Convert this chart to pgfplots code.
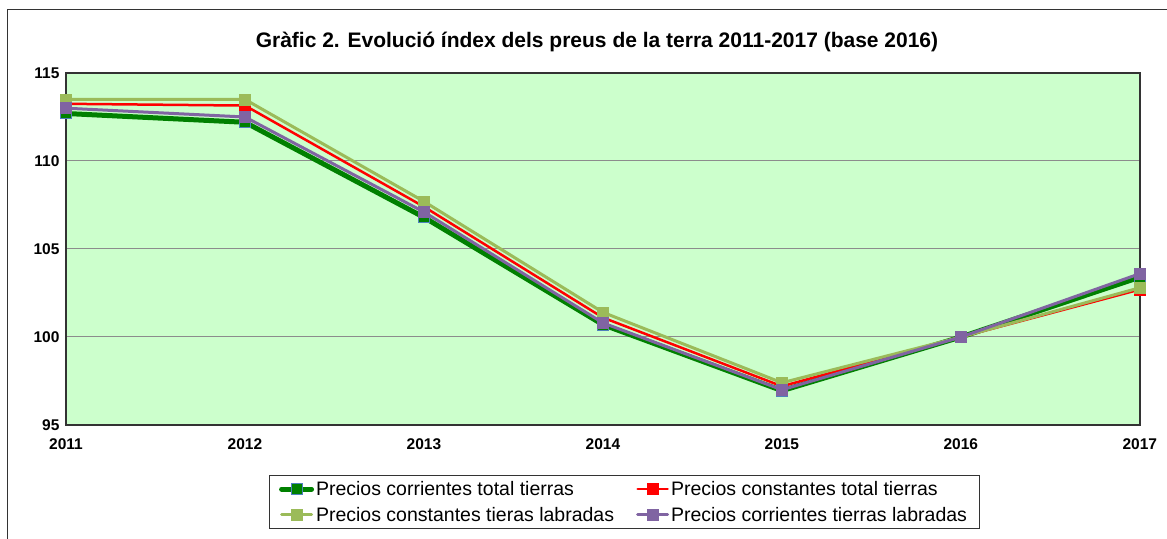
\documentclass[border=0pt]{standalone}
\usepackage{pgfplots}
\pgfplotsset{compat=1.18}
\usepackage{fontspec}
\setmainfont{Liberation Sans}
\definecolor{bgg}{HTML}{CCFFCC}
\definecolor{dgreen}{HTML}{008000}
\definecolor{lgreen}{HTML}{9BBB59}
\definecolor{purp}{HTML}{8064A2}
\definecolor{mblue}{HTML}{4F81BD}
\begin{document}
\begin{tikzpicture}[x=1pt,y=1pt]
\begin{axis}[
  at={(0,0)}, anchor=origin,
  scale only axis, width=1074pt, height=352pt,
  xmin=2011, xmax=2017, ymin=95, ymax=115,
  xtick={2011,...,2017}, ytick={95,100,...,115},
  x tick label style={/pgf/number format/set thousands separator={}},
  tick label style={font=\fontsize{15.5}{17}\selectfont\bfseries},
  /pgf/number format/assume math mode=true,
  axis background/.style={fill=bgg},
  axis line style={black!80, line width=1.2pt},
  ymajorgrids, grid style={black!45, line width=1pt},
  tick style={draw=none},
  yticklabel style={xshift=-3pt},
  xticklabel style={yshift=-10pt},
  clip=false,
  legend style={at={(0.5196,-0.142)}, anchor=north, legend columns=2,
    font=\fontsize{19.5}{22}\selectfont, draw=black!80, line width=0.8pt,
    cells={anchor=west},
    /tikz/every even column/.append style={column sep=20pt},
    row sep=6pt, inner ysep=4pt, inner xsep=10pt},
  legend image code/.code={
    \draw[mark repeat=2,mark phase=2,line cap=round,#1] plot coordinates {(0pt,0pt) (15pt,0pt) (30pt,0pt)};},
]
\addplot[dgreen, line width=5pt, mark=square*, mark size=5.5pt, mark options={fill=dgreen, draw=mblue, line width=1pt}]
 coordinates {(2011,112.7) (2012,112.2) (2013,106.8) (2014,100.7) (2015,96.95) (2016,100) (2017,103.4)};
\addlegendentry{Precios corrientes total tierras}
\addplot[red, line width=2.5pt, mark=square*, mark size=5.5pt, mark options={fill=red, draw=red, line width=0.5pt}]
 coordinates {(2011,113.25) (2012,113.15) (2013,107.4) (2014,101.1) (2015,97.2) (2016,100) (2017,102.7)};
\addlegendentry{Precios constantes total tierras}
\addplot[lgreen, line width=3pt, mark=square*, mark size=5.5pt, mark options={fill=lgreen, draw=lgreen, line width=0.5pt}]
 coordinates {(2011,113.5) (2012,113.5) (2013,107.7) (2014,101.4) (2015,97.4) (2016,100) (2017,102.8)};
\addlegendentry{Precios constantes tieras labradas}
\addplot[purp, line width=3pt, mark=square*, mark size=5.5pt, mark options={fill=purp, draw=purp, line width=0.5pt}]
 coordinates {(2011,113.0) (2012,112.5) (2013,107.1) (2014,100.8) (2015,97.0) (2016,100) (2017,103.6)};
\addlegendentry{Precios corrientes tierras labradas}
\end{axis}
\node[font=\fontsize{21}{24}\selectfont\bfseries] at (531,383) {Gràfic 2. Evolució índex dels preus de la terra 2011-2017 (base 2016)};
\draw[black!80, line width=1pt] (-58,-130) -- (-58,415) -- (1120,415);
\pgfresetboundingbox
\useasboundingbox (-66,-113) rectangle (1101,425);
\end{tikzpicture}
\end{document}
